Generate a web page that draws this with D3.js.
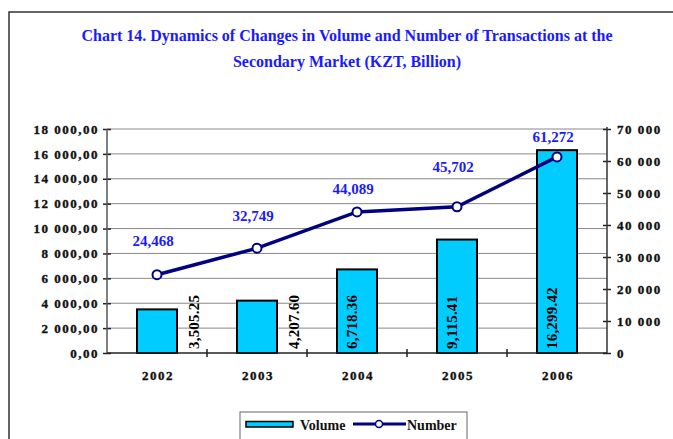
<!DOCTYPE html>
<html>
<head>
<meta charset="utf-8">
<script src="https://cdn.jsdelivr.net/npm/d3@7"></script>
<style>
    body { margin: 0; background: #fff; }
    svg { display: block; font-family: "Liberation Serif", "Times New Roman", serif; font-weight: bold; }
</style>
</head>
<body>
<svg id="chart" width="673" height="439"></svg>
<script>
// chart values
const years = ['2002', '2003', '2004', '2005', '2006'];
const volume = [3505.25, 4207.60, 6718.36, 9115.41, 16299.42];
const volumeLabels = ['3,505.25', '4,207.60', '6,718.36', '9,115.41', '16,299.42'];
const number = [24468, 32749, 44089, 45702, 61272];
const numberLabels = ['24,468', '32,749', '44,089', '45,702', '61,272'];
const leftTicks = [0, 2000, 4000, 6000, 8000, 10000, 12000, 14000, 16000, 18000];
const rightTicks = [0, 10000, 20000, 30000, 40000, 50000, 60000, 70000];

// hand placed label nudges from the original (vertical, px)
const numberLabelNudge = [-5, -3, 6, -11, 9];

const svg = d3.select('#chart');
const plot = { left: 107, right: 607, top: 129, bottom: 353 };

// outer frame
svg.append('rect')
    .attr('x', 9).attr('y', 12)
    .attr('width', 700).attr('height', 460)
    .style('fill', 'none')
    .style('stroke', '#333')
    .style('stroke-width', 1.5);

// title
const title = svg.append('text')
    .attr('text-anchor', 'middle')
    .style('fill', '#1a1aff')
    .style('font-size', '16px');
title.append('tspan').attr('x', 347).attr('y', 41)
    .text('Chart 14. Dynamics of Changes in Volume and Number of Transactions at the');
title.append('tspan').attr('x', 347).attr('y', 67)
    .text('Secondary Market (KZT, Billion)');

const x = d3.scaleBand().domain(years)
    .range([plot.left, plot.right])
    .paddingInner(0.6).paddingOuter(0.3);
const yLeft = d3.scaleLinear().domain([0, 18000]).range([plot.bottom, plot.top]);
const yRight = d3.scaleLinear().domain([0, 70000]).range([plot.bottom, plot.top]);

const fmtLeft = function (d) {
    return d3.format(',.2f')(d).replace(/,/g, ' ').replace('.', ',');
};
const fmtRight = function (d) {
    return d3.format(',')(d).replace(/,/g, ' ');
};

function axisText(sel) {
    sel.style('font-family', 'Liberation Serif')
        .style('font-weight', 'bold')
        .style('font-size', '13px')
        .style('letter-spacing', '1.5px')
        .style('fill', '#111')
        .style('stroke', '#111')
        .style('stroke-width', 0.35);
}

// grid lines
svg.append('g').selectAll('line')
    .data(leftTicks.slice(1))
    .enter().append('line')
    .attr('x1', plot.left).attr('x2', plot.right)
    .attr('y1', d => yLeft(d)).attr('y2', d => yLeft(d))
    .style('stroke', '#888')
    .style('stroke-width', 1);

// left axis
const gl = svg.append('g')
    .attr('transform', 'translate(' + plot.left + ',0)')
    .call(d3.axisLeft(yLeft).tickValues(leftTicks).tickFormat(fmtLeft).tickSize(4).tickPadding(7));
gl.select('.domain').remove();
gl.selectAll('.tick line').attr('x2', -4).attr('x1', 4).style('stroke', '#222').style('stroke-width', 1.5);
gl.selectAll('.tick text').attr('x', -8).call(axisText);
svg.append('line')
    .attr('x1', plot.left).attr('x2', plot.left)
    .attr('y1', plot.top).attr('y2', plot.bottom)
    .style('stroke', '#555').style('stroke-width', 1.5);

// right axis
const gr = svg.append('g')
    .attr('transform', 'translate(' + plot.right + ',0)')
    .call(d3.axisRight(yRight).tickValues(rightTicks).tickFormat(fmtRight).tickSize(4).tickPadding(7));
gr.select('.domain').remove();
gr.selectAll('.tick line').attr('x1', -4).attr('x2', 4).style('stroke', '#222').style('stroke-width', 1.5);
gr.selectAll('.tick text').attr('x', 10).call(axisText);
svg.append('line')
    .attr('x1', plot.right).attr('x2', plot.right)
    .attr('y1', plot.top - 2).attr('y2', plot.bottom)
    .style('stroke', '#333').style('stroke-width', 1.5);

// bars
svg.append('g').selectAll('rect')
    .data(volume)
    .enter().append('rect')
    .attr('x', (d, i) => x(years[i]))
    .attr('y', d => yLeft(d))
    .attr('width', x.bandwidth())
    .attr('height', d => plot.bottom - yLeft(d))
    .style('fill', '#00ccff')
    .style('stroke', '#000')
    .style('stroke-width', 2);

// bottom axis with category separators
const sep = x.step() - x.bandwidth();
svg.append('line')
    .attr('x1', plot.left).attr('x2', plot.right)
    .attr('y1', plot.bottom).attr('y2', plot.bottom)
    .style('stroke', '#222').style('stroke-width', 1.5);
svg.append('g').selectAll('line')
    .data(years.slice(0, -1))
    .enter().append('line')
    .attr('x1', d => x(d) + x.bandwidth() + sep / 2)
    .attr('x2', d => x(d) + x.bandwidth() + sep / 2)
    .attr('y1', plot.bottom - 4).attr('y2', plot.bottom + 4)
    .style('stroke', '#222').style('stroke-width', 1.5);
svg.append('g').selectAll('text')
    .data(years)
    .enter().append('text')
    .attr('x', d => x(d) + x.bandwidth() / 2 + 1)
    .attr('y', plot.bottom + 27)
    .attr('text-anchor', 'middle')
    .call(axisText)
    .text(d => d);

// bar value labels, rotated; put beside the bar when it is too short
const labelLen = 60;
svg.append('g').selectAll('text')
    .data(volume)
    .enter().append('text')
    .attr('transform', function (d, i) {
        const cx = x(years[i]) + x.bandwidth() / 2;
        const short = (plot.bottom - yLeft(d)) < labelLen;
        const lx = short ? cx + 37 : cx - 5;
        return 'translate(' + lx + ',' + (plot.bottom - 4) + ')rotate(-90)';
    })
    .attr('dy', '0.35em')
    .attr('text-anchor', 'start')
    .style('font-size', '15px')
    .style('letter-spacing', '0.2px')
    .style('fill', '#000')
    .text((d, i) => volumeLabels[i]);

// number line
const line = d3.line()
    .x((d, i) => x(years[i]) + x.bandwidth() / 2)
    .y(d => yRight(d));
svg.append('path')
    .datum(number)
    .attr('d', line)
    .style('fill', 'none')
    .style('stroke', '#000080')
    .style('stroke-width', 3.5);
svg.append('g').selectAll('circle')
    .data(number)
    .enter().append('circle')
    .attr('cx', (d, i) => x(years[i]) + x.bandwidth() / 2)
    .attr('cy', d => yRight(d))
    .attr('r', 4.5)
    .style('fill', '#fff')
    .style('stroke', '#000080')
    .style('stroke-width', 2);
svg.append('g').selectAll('text')
    .data(number)
    .enter().append('text')
    .attr('x', (d, i) => x(years[i]) + x.bandwidth() / 2 - 4)
    .attr('y', (d, i) => yRight(d) - 24 + numberLabelNudge[i])
    .attr('text-anchor', 'middle')
    .style('font-size', '15px')
    .style('fill', '#1a1aff')
    .text((d, i) => numberLabels[i]);

// legend
const lg = svg.append('g').attr('transform', 'translate(240,412)');
lg.append('rect')
    .attr('width', 227).attr('height', 40)
    .style('fill', '#fff')
    .style('stroke', '#666')
    .style('stroke-width', 1);
lg.append('rect')
    .attr('x', 6).attr('y', 9.5)
    .attr('width', 47).attr('height', 5.5)
    .style('fill', '#00ccff')
    .style('stroke', '#000')
    .style('stroke-width', 1.5);
lg.append('text')
    .attr('x', 60).attr('y', 18)
    .style('font-size', '14px')
    .style('fill', '#111')
    .text('Volume');
lg.append('line')
    .attr('x1', 113).attr('x2', 166)
    .attr('y1', 12).attr('y2', 12)
    .style('stroke', '#000080')
    .style('stroke-width', 3);
lg.append('circle')
    .attr('cx', 139).attr('cy', 12).attr('r', 3.5)
    .style('fill', '#fff')
    .style('stroke', '#000080')
    .style('stroke-width', 1.5);
lg.append('text')
    .attr('x', 167).attr('y', 18)
    .style('font-size', '14px')
    .style('fill', '#111')
    .text('Number');
</script>
</body>
</html>
